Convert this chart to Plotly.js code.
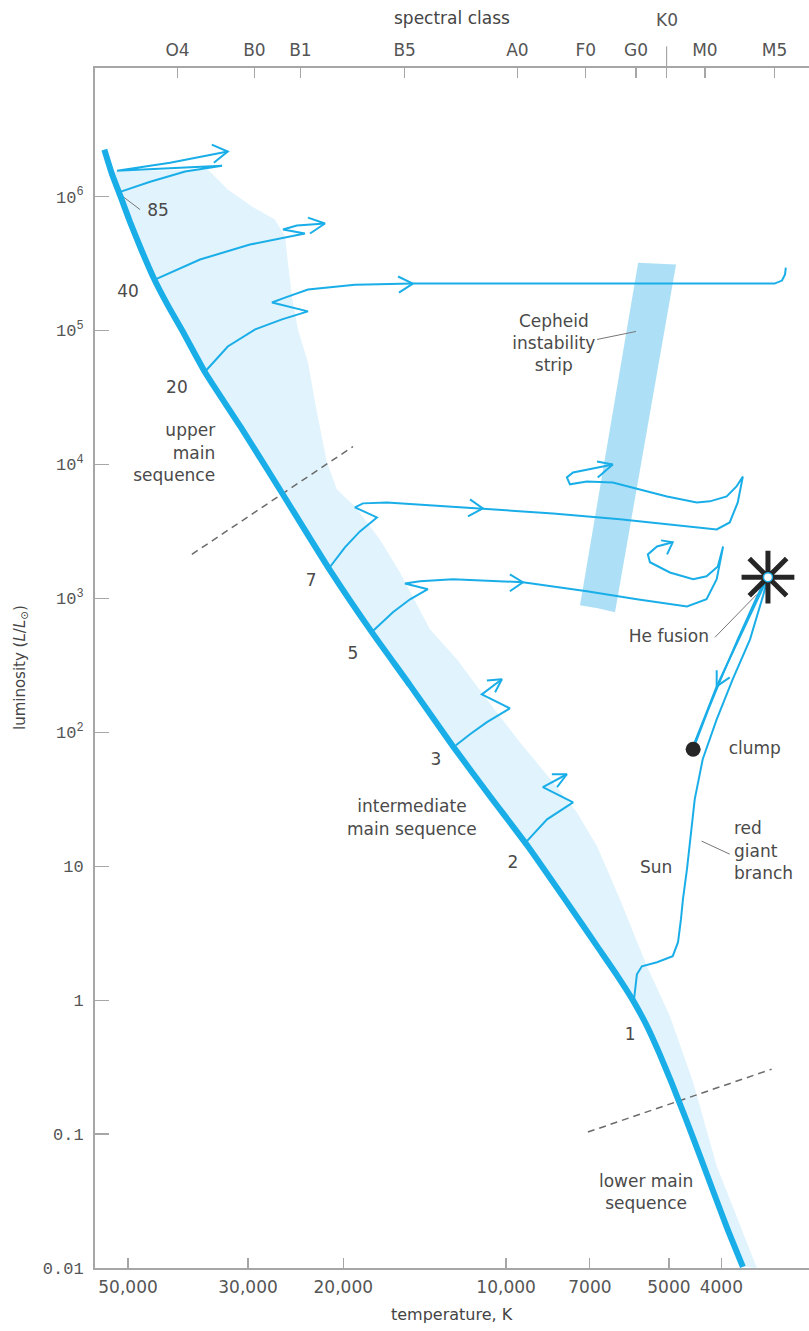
<!DOCTYPE html>
<html>
<head>
<meta charset="utf-8">
<script src="https://cdn.plot.ly/plotly-3.0.1.min.js"></script>
<style>
  html, body { margin: 0; padding: 0; background: #fff; }
  #chart { width: 809px; height: 1331px; }
</style>
</head>
<body>
<div id="chart"></div>
<script>
// Hertzsprung–Russell diagram: temperature in K, luminosity in solar units.

// Axis ticks
const tempTicks = [50000, 30000, 20000, 10000, 7000, 5000, 4000];
const tempTickText = ['50,000', '30,000', '20,000', '10,000', '7000', '5000', '4000'];
const lumTicks = [0.01, 0.1, 1, 10, 100, 1e3, 1e4, 1e5, 1e6];
const lumTickText = ['0.01', '0.1', '1', '10', '10<sup>2</sup>', '10<sup>3</sup>', '10<sup>4</sup>', '10<sup>5</sup>', '10<sup>6</sup>'];
const spectralClasses = ['O4', 'B0', 'B1', 'B5', 'A0', 'F0', 'G0', 'K0', 'M0', 'M5'];
const spectralTemps = [40500, 29200, 24000, 15400, 9530, 7120, 5750, 5050, 4290, 3190];

// Zero-age main sequence
const msTemp = [55300, 53500, 51700, 49600, 47100, 44600, 42200, 39700, 36000, 31000, 26200, 21200, 17700, 15050, 12540, 10710, 9150, 7720, 6770, 6240, 5830, 5490, 5200, 4940, 4650, 4380, 4130, 3890, 3650];
const msLum = [2.24e6, 1.46e6, 1.02e6, 6.50e5, 3.89e5, 2.36e5, 1.54e5, 1.0e5, 4.86e4, 1.92e4, 6.50e3, 1.64e3, 557, 224, 78.7, 33.3, 14.4, 5.39, 2.49, 1.54, 1.0, 0.640, 0.395, 0.240, 0.129, 0.0685, 0.0363, 0.0192, 0.0102];

// Cool edge of the main-sequence band
const bandEdgeTemp = [53300, 35600, 32700, 29500, 26750, 25630, 25310, 24880, 24260, 23240, 22370, 21440, 20550, 19030, 17110, 15710, 13830, 12330, 10850, 9430, 8190, 7400, 6790, 6160, 5490, 4980, 4510, 4080, 3750, 3440];
const bandEdgeLum = [1.54e6, 1.59e6, 1.13e6, 8.42e5, 6.73e5, 5.03e5, 3.21e5, 1.79e5, 1.02e5, 5.77e4, 2.44e4, 1.04e4, 6.50e3, 4.86e3, 2.75e3, 1.56e3, 587, 351, 176, 84.2, 42.4, 25.3, 14.1, 5.67, 1.79, 0.760, 0.244, 0.0577, 0.0244, 0.01];

// Evolutionary tracks (mass in solar masses)
const track85Temp = [52200, 45500, 39200, 33500, 52400, 41800, 32700];
const track85Lum = [1.07e6, 1.29e6, 1.54e6, 1.70e6, 1.56e6, 1.79e6, 2.17e6];
const head85Temp = [35000, 32700, 34700];
const head85Lum = [2.44e6, 2.17e6, 1.79e6];

const track40Temp = [44600, 36800, 29750, 23540, 25850, 24360, 21620];
const track40Lum = [2.40e5, 3.39e5, 4.38e5, 5.30e5, 5.67e5, 6.08e5, 6.29e5];
const head40Temp = [23240, 21620, 23040];
const head40Lum = [6.97e5, 6.29e5, 5.30e5];

const track20Temp = [36000, 32700, 29100, 25960, 23240, 27090, 25630, 23240, 19030, 14870, 6710, 3190, 3090, 3050, 3040];
const track20Lum = [4.94e4, 7.60e4, 1.02e5, 1.21e5, 1.39e5, 1.62e5, 1.76e5, 2.02e5, 2.20e5, 2.24e5, 2.24e5, 2.24e5, 2.36e5, 2.62e5, 2.95e5];
const head20Temp = [15840, 14870, 15780];
const head20Lum = [2.53e5, 2.24e5, 1.92e5];

const track7Temp = [21200, 19860, 18630, 17330, 19030, 18390, 16610, 11040, 8190, 6160, 4630, 4080, 3860, 3730, 3650, 3750, 3910, 4200, 4440, 5040, 5660, 6350, 7090, 7620, 7720, 7520, 6910, 6350];
const track7Lum = [1.70e3, 2.40e3, 3.16e3, 4.02e3, 4.78e3, 5.12e3, 5.20e3, 4.70e3, 4.31e3, 3.89e3, 3.45e3, 3.27e3, 3.69e3, 5.20e3, 8.13e3, 6.85e3, 5.77e3, 5.30e3, 5.20e3, 5.77e3, 6.50e3, 7.34e3, 7.46e3, 7.10e3, 8.00e3, 8.71e3, 9.33e3, 1.0e4];
const head7aTemp = [11660, 11040, 11760];
const head7aLum = [5.48e3, 4.70e3, 4.09e3];
const head7bTemp = [6790, 6350, 6770];
const head7bLum = [1.05e4, 1.0e4, 8.0e3];

const track5Temp = [17630, 16190, 15050, 13950, 15380, 14430, 12540, 9310, 7090, 5730, 4630, 4260, 4080, 3970, 4060, 4260, 4510, 4980, 5420, 5470, 5260, 4920];
const track5Lum = [570, 787, 984, 1.17e3, 1.29e3, 1.34e3, 1.39e3, 1.32e3, 1.13e3, 984, 871, 984, 1.39e3, 2.44e3, 1.73e3, 1.46e3, 1.39e3, 1.56e3, 1.86e3, 2.13e3, 2.44e3, 2.62e3];
const head5aTemp = [9840, 9310, 9840];
const head5aLum = [1.51e3, 1.32e3, 1.13e3];
const head5bTemp = [5170, 4920, 5040];
const head5bLum = [2.71e3, 2.62e3, 2.13e3];

const track3Temp = [12380, 11660, 10850, 9840, 11090, 10180];
const track3Lum = [80.0, 96.6, 119, 151, 192, 249];
const head3Temp = [10850, 10180, 10480];
const head3Lum = [244, 249, 199];

const track2Temp = [9150, 8400, 7520, 8550, 7720];
const track2Lum = [15.4, 22.4, 30.0, 38.9, 48.6];
const head2Temp = [8230, 7720, 8050];
const head2Lum = [48.6, 48.6, 38.9];

// The Sun: red giant branch, drop to the clump, return up the giant branch
const sunTemp = [5800, 5730, 5610, 5260, 4920, 4810, 4750, 4710, 4630, 4570, 4480, 4330, 4080, 3810, 3540, 3350, 3280];
const sunLum = [1.02, 1.56, 1.79, 1.92, 2.13, 2.71, 4.02, 5.67, 9.50, 15.9, 31.6, 62.9, 125, 249, 494, 1.04e3, 1.44e3];
const descentTemp = [3280, 3590, 3910, 4080, 4260, 4480, 4510];
const descentLum = [1.44e3, 662, 311, 220, 141, 84.2, 74.7];
const headDescentTemp = [4080, 4080, 3860];
const headDescentLum = [290, 220, 257];
const agbTemp = [4510, 4240, 4010, 3730, 3440, 3300];
const agbLum = [74.7, 144, 249, 494, 1.02e3, 1.44e3];
const heFlashTemp = [3280];
const heFlashLum = [1.44e3];
const clumpTemp = [4510];
const clumpLum = [74.7];

// Cepheid instability strip
const cepheidTemp = [5700, 4850, 6290, 6770, 7300];
const cepheidLum = [3.21e5, 3.11e5, 787, 842, 887];

// Dividing lines between parts of the main sequence
const upperDivTemp = [38100, 19190];
const upperDivLum = [2.13e3, 1.36e4];
const lowerDivTemp = [7060, 3230];
const lowerDivLum = [0.1035, 0.305];

// Label leader lines
const leader85Temp = [51100, 47500];
const leader85Lum = [1.0e6, 8.0e5];
const leaderCepheidTemp = [6790, 5750];
const leaderCepheidLum = [8.57e4, 9.84e4];
const leaderHeTemp = [4110, 3440];
const leaderHeLum = [512, 1.07e3];
const leaderRgbTemp = [4350, 3860];
const leaderRgbLum = [15.4, 12.3];

// Centred labels
const labelText = ['85', '40', '20', '7', '5', '3', 'intermediate<br>main sequence', '2', '1', 'lower main<br>sequence', 'Cepheid<br>instability<br>strip', 'He fusion', 'clump', 'Sun'];
const labelTemp = [44000, 50000, 40600, 22940, 19190, 13480, 14930, 9710, 5900, 5510, 8160, 5000, 3470, 5280];
const labelLum = [7.73e5, 1.92e5, 3.69e4, 1.32e3, 382, 60.8, 22.4, 10.35, 0.539, 0.0357, 7.87e4, 512, 74.7, 9.50];
const upperLabel = 'upper<br>main<br>sequence';
const upperLabelTemp = [34500];
const upperLabelLum = [1.19e4];
const rgbLabel = 'red<br>giant<br>branch';
const rgbLabelTemp = [3790];
const rgbLabelLum = [12.7];

const BLUE = '#1aaee8';
const BAND = '#e1f3fc';
const STRIP = '#ade0f7';
const INK = '#4a4a4a';
const AXIS = '#a6a6a6';
const FONT = "'DejaVu Sans', Roboto, sans-serif";
const MONO = "'Liberation Mono', 'DejaVu Sans Mono', monospace";

function path(xs, ys, extra) {
  return Object.assign({
    type: 'scatter', mode: 'lines', x: xs, y: ys,
    hoverinfo: 'skip', showlegend: false,
    line: { color: BLUE, width: 2 }
  }, extra || {});
}

const bandTemp = bandEdgeTemp.concat(msTemp.slice(1).reverse());
const bandLum = bandEdgeLum.concat(msLum.slice(1).reverse());

const traces = [
  path(bandTemp, bandLum, { fill: 'toself', fillcolor: BAND, line: { width: 0, color: BAND } }),
  path(cepheidTemp, cepheidLum, { fill: 'toself', fillcolor: STRIP, line: { width: 0, color: STRIP } }),
  path(upperDivTemp, upperDivLum, { line: { color: '#6b6b6b', width: 1.5, dash: '7px,5px' } }),
  path(lowerDivTemp, lowerDivLum, { line: { color: '#6b6b6b', width: 1.5, dash: '7px,5px' } }),
  path(track85Temp, track85Lum), path(head85Temp, head85Lum),
  path(track40Temp, track40Lum), path(head40Temp, head40Lum),
  path(track20Temp, track20Lum), path(head20Temp, head20Lum),
  path(track7Temp, track7Lum), path(head7aTemp, head7aLum), path(head7bTemp, head7bLum),
  path(track5Temp, track5Lum), path(head5aTemp, head5aLum), path(head5bTemp, head5bLum),
  path(track3Temp, track3Lum), path(head3Temp, head3Lum),
  path(track2Temp, track2Lum), path(head2Temp, head2Lum),
  path(sunTemp, sunLum),
  path(descentTemp, descentLum), path(headDescentTemp, headDescentLum),
  path(agbTemp, agbLum),
  path(leader85Temp, leader85Lum, { line: { color: '#777', width: 1 } }),
  path(leaderCepheidTemp, leaderCepheidLum, { line: { color: '#777', width: 1 } }),
  path(leaderHeTemp, leaderHeLum, { line: { color: '#777', width: 1 } }),
  path(leaderRgbTemp, leaderRgbLum, { line: { color: '#777', width: 1 } }),
  path(msTemp, msLum, { line: { color: BLUE, width: 6, shape: 'spline', smoothing: 0.5 } }),
  {
    type: 'scatter', mode: 'markers', x: heFlashTemp, y: heFlashLum,
    hoverinfo: 'skip', showlegend: false,
    marker: { symbol: 'asterisk-open', size: 44, color: '#262626', line: { color: '#262626', width: 5 } }
  },
  {
    type: 'scatter', mode: 'markers', x: heFlashTemp, y: heFlashLum,
    hoverinfo: 'skip', showlegend: false,
    marker: { symbol: 'circle', size: 9, color: '#ffffff', line: { color: BLUE, width: 1.5 } }
  },
  {
    type: 'scatter', mode: 'markers', x: clumpTemp, y: clumpLum,
    hoverinfo: 'skip', showlegend: false,
    marker: { symbol: 'circle', size: 15, color: '#262626' }
  },
  {
    type: 'scatter', mode: 'text', x: labelTemp, y: labelLum, text: labelText,
    textposition: 'middle center', hoverinfo: 'skip', showlegend: false,
    textfont: { family: FONT, size: 17, color: INK }
  },
  {
    type: 'scatter', mode: 'text', x: upperLabelTemp, y: upperLabelLum, text: [upperLabel],
    textposition: 'middle left', hoverinfo: 'skip', showlegend: false,
    textfont: { family: FONT, size: 17, color: INK }
  },
  {
    type: 'scatter', mode: 'text', x: rgbLabelTemp, y: rgbLabelLum, text: [rgbLabel],
    textposition: 'middle right', hoverinfo: 'skip', showlegend: false,
    textfont: { family: FONT, size: 17, color: INK }
  },
  // anchors the spectral-class axis along the top
  {
    type: 'scatter', mode: 'markers', x: [spectralTemps[0]], y: [1], xaxis: 'x2',
    hoverinfo: 'skip', showlegend: false, marker: { opacity: 0 }
  }
];

const xRange = [4.760, 3.440];
const topTickText = spectralClasses.map(s => (s === 'K0' ? ' ' : s));
const k0Temp = spectralTemps[spectralClasses.indexOf('K0')];

const layout = {
  width: 809,
  height: 1331,
  margin: { l: 95, r: 0, t: 68, b: 63 },
  paper_bgcolor: '#ffffff',
  plot_bgcolor: '#ffffff',
  hovermode: false,
  showlegend: false,
  font: { family: FONT, color: '#555' },
  xaxis: {
    type: 'log', range: xRange, autorange: false,
    showgrid: false, zeroline: false,
    showline: true, linecolor: AXIS, linewidth: 2,
    ticks: 'inside', ticklen: 10, tickwidth: 1.2, tickcolor: AXIS,
    tickvals: tempTicks, ticktext: tempTickText,
    tickfont: { family: FONT, size: 17, color: '#555' },
    ticklabelstandoff: 3
  },
  xaxis2: {
    type: 'log', range: xRange, autorange: false,
    overlaying: 'x', side: 'top', anchor: 'y',
    showgrid: false, zeroline: false,
    showline: true, linecolor: AXIS, linewidth: 2,
    ticks: 'inside', ticklen: 10, tickwidth: 1.2, tickcolor: AXIS,
    tickvals: spectralTemps, ticktext: topTickText,
    tickfont: { family: FONT, size: 17, color: '#555' },
    ticklabelstandoff: 3
  },
  yaxis: {
    type: 'log', range: [-2, 6.96], autorange: false,
    showgrid: false, zeroline: false,
    showline: true, linecolor: AXIS, linewidth: 2,
    ticks: 'inside', ticklen: 14, tickwidth: 1.2, tickcolor: AXIS,
    tickvals: lumTicks, ticktext: lumTickText,
    tickfont: { family: MONO, size: 17, color: '#555' },
    ticklabelstandoff: 6
  },
  shapes: [
    {
      type: 'line', xref: 'x', yref: 'paper',
      x0: k0Temp, x1: k0Temp, y0: 1, y1: 1.018,
      line: { color: AXIS, width: 1.2 }
    }
  ],
  annotations: [
    {
      text: 'spectral class', xref: 'paper', yref: 'paper', x: 0.5, y: 1.0417,
      xanchor: 'center', yanchor: 'middle', showarrow: false,
      font: { family: FONT, size: 17, color: '#444' }
    },
    {
      text: 'K0', xref: 'x', yref: 'paper', x: Math.log10(k0Temp), y: 1.04,
      xanchor: 'center', yanchor: 'middle', showarrow: false,
      font: { family: FONT, size: 17, color: '#555' }
    },
    {
      text: 'temperature, K', xref: 'paper', yref: 'paper', x: 0.5, y: -0.039,
      xanchor: 'center', yanchor: 'middle', showarrow: false,
      font: { family: FONT, size: 16, color: '#444' }
    },
    {
      text: 'luminosity (<i>L</i>/<i>L</i><sub>⊙</sub>)', xref: 'paper', yref: 'paper',
      x: -0.105, y: 0.5, textangle: -90,
      xanchor: 'center', yanchor: 'middle', showarrow: false,
      font: { family: FONT, size: 15, color: '#444' }
    }
  ]
};

Plotly.newPlot('chart', traces, layout, { staticPlot: true, displayModeBar: false });
</script>
</body>
</html>
